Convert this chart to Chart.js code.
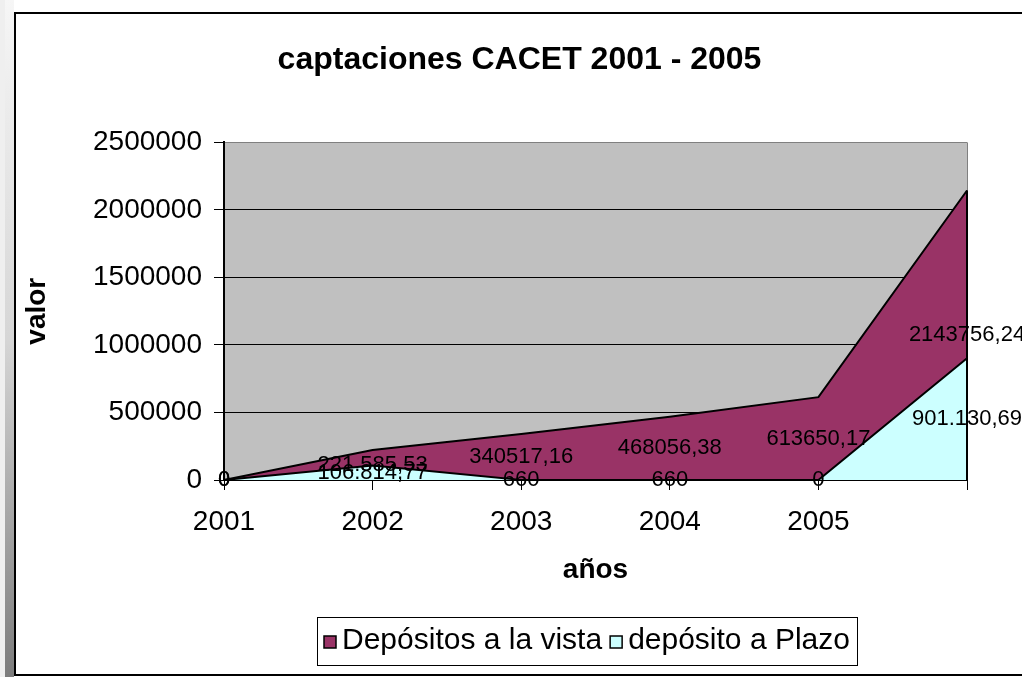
<!DOCTYPE html>
<html>
<head>
<meta charset="utf-8">
<script src="https://cdn.jsdelivr.net/npm/chart.js"></script>
<style>
  html, body { margin: 0; padding: 0; background: #fff; }
  #wrap { width: 1022px; height: 677px; }
</style>
</head>
<body>
<div id="wrap"><canvas id="chart" width="1022" height="677"></canvas></div>
<script>
// data
const years = ['2001', '2002', '2003', '2004', '2005', ''];
const vista = [0, 221585.53, 340517.16, 468056.38, 613650.17, 2143756.24];
const plazo = [0, 106814.77, 660, 660, 0, 901130.69];
const vistaLabels = ['0', '221.585,53', '340517,16', '468056,38', '613650,17', '2143756,24'];
const plazoLabels = ['0', '106.814,77', '660', '660', '0', '901.130,69'];
const yTicks = [0, 500000, 1000000, 1500000, 2000000, 2500000];

const FONT = '"Liberation Sans", Arial, sans-serif';
Chart.defaults.font.family = FONT;
Chart.defaults.color = '#000';

// frame, shadow strip, grey plot background, value labels and boxed legend
const framePlugin = {
  id: 'frame',
  afterLayout(chart) {
    // the title sits a little right of the canvas centre in the original
    chart.titleBlock.left += 28;
    chart.titleBlock.right += 28;
  },
  beforeDraw(chart) {
    const ctx = chart.ctx, a = chart.chartArea;
    ctx.save();
    ctx.fillStyle = '#fff';
    ctx.fillRect(0, 0, chart.width, chart.height);
    ctx.fillStyle = '#efefef';
    ctx.fillRect(0, 0, 5, chart.height);
    const g = ctx.createLinearGradient(0, 0, 0, chart.height);
    g.addColorStop(0, '#f6f6f6');
    g.addColorStop(0.5, '#d6d6d6');
    g.addColorStop(1, '#7c7c7c');
    ctx.fillStyle = g;
    ctx.fillRect(5, 0, 9, chart.height);
    ctx.strokeStyle = '#000';
    ctx.lineWidth = 2;
    ctx.strokeRect(15, 13, 1040, 662);
    ctx.fillStyle = '#c0c0c0';
    ctx.fillRect(a.left, a.top, a.right - a.left, a.bottom - a.top);
    ctx.restore();
  },
  beforeDatasetsDraw(chart) {
    const ctx = chart.ctx, a = chart.chartArea;
    ctx.save();
    ctx.strokeStyle = '#808080';
    ctx.lineWidth = 1;
    ctx.beginPath();
    ctx.moveTo(a.right + 0.5, a.top);
    ctx.lineTo(a.right + 0.5, a.bottom);
    ctx.stroke();
    ctx.restore();
  },
  afterDatasetsDraw(chart) {
    const ctx = chart.ctx;
    const base = chart.scales.y.getPixelForValue(0);
    ctx.save();
    // closing edge of the areas at the last point
    ctx.strokeStyle = '#000';
    ctx.lineWidth = 2;
    chart.data.datasets.forEach((ds, i) => {
      const pts = chart.getDatasetMeta(i).data;
      const p = pts[pts.length - 1];
      ctx.beginPath();
      ctx.moveTo(p.x, p.y);
      ctx.lineTo(p.x, base);
      ctx.stroke();
    });
    // value labels, centred between the point and the base
    ctx.fillStyle = '#000';
    ctx.font = '22px ' + FONT;
    ctx.textAlign = 'center';
    ctx.textBaseline = 'middle';
    chart.data.datasets.forEach((ds, i) => {
      chart.getDatasetMeta(i).data.forEach((p, j) => {
        ctx.fillText(ds.valueLabels[j], p.x, (p.y + base) / 2);
      });
    });
    ctx.restore();
  },
  afterDraw(chart) {
    const ctx = chart.ctx;
    const box = { left: 317, right: 857, top: 617, bottom: 665 };
    const sq = 12, gapBox = 6, gapItem = 8;
    ctx.save();
    ctx.font = '30px ' + FONT;
    const items = chart.data.datasets.map(ds => ({
      text: ds.label, fill: ds.backgroundColor, w: ctx.measureText(ds.label).width
    }));
    const total = items.reduce((s, it) => s + sq + gapBox + it.w, 0) + gapItem * (items.length - 1);
    let x = Math.round((box.left + box.right) / 2 - total / 2);
    const cy = (box.top + box.bottom) / 2;
    ctx.strokeStyle = '#000';
    ctx.lineWidth = 1;
    ctx.strokeRect(box.left + 0.5, box.top + 0.5, box.right - box.left, box.bottom - box.top);
    ctx.textAlign = 'left';
    ctx.textBaseline = 'middle';
    items.forEach(it => {
      ctx.fillStyle = it.fill;
      ctx.fillRect(x, cy - sq / 2 + 1, sq, sq);
      ctx.lineWidth = 1.5;
      ctx.strokeRect(x, cy - sq / 2 + 1, sq, sq);
      ctx.fillStyle = '#000';
      ctx.fillText(it.text, x + sq + gapBox, cy);
      x += sq + gapBox + it.w + gapItem;
    });
    ctx.restore();
  }
};

new Chart(document.getElementById('chart'), {
  type: 'line',
  data: {
    labels: years,
    datasets: [
      {
        label: 'Depósitos a la vista',
        data: vista,
        valueLabels: vistaLabels,
        backgroundColor: '#993366',
        borderColor: '#000',
        borderWidth: 2,
        fill: 'origin',
        pointRadius: 0,
        tension: 0,
        order: 2
      },
      {
        label: 'depósito a Plazo',
        data: plazo,
        valueLabels: plazoLabels,
        backgroundColor: '#ccffff',
        borderColor: '#000',
        borderWidth: 2,
        fill: 'origin',
        pointRadius: 0,
        tension: 0,
        order: 1
      }
    ]
  },
  options: {
    responsive: false,
    animation: false,
    layout: { padding: { left: 16, right: 55, top: 0, bottom: 59 } },
    plugins: {
      tooltip: { enabled: false },
      legend: { display: false },
      title: {
        display: true,
        text: 'captaciones CACET 2001 - 2005',
        color: '#000',
        font: { size: 32, weight: 'bold' },
        padding: { top: 41, bottom: 63 }
      }
    },
    scales: {
      x: {
        type: 'category',
        offset: false,
        grid: { drawOnChartArea: false, drawTicks: true, tickLength: 10, color: '#000', tickColor: '#000' },
        border: { color: '#000', width: 2 },
        ticks: { color: '#000', font: { size: 28 }, padding: 15, maxRotation: 0, autoSkip: false },
        title: {
          display: true,
          text: 'años',
          color: '#000',
          font: { size: 28, weight: 'bold' },
          padding: { top: 4, bottom: 31 }
        },
        afterFit: s => { s.height = 138; }
      },
      y: {
        min: 0,
        max: 2500000,
        afterBuildTicks: s => { s.ticks = yTicks.map(v => ({ value: v })); },
        ticks: { color: '#000', font: { size: 28 }, padding: 12, callback: v => String(v) },
        grid: {
          color: c => (c.tick && c.tick.value === 2500000 ? '#808080' : '#000'),
          tickColor: '#000',
          tickLength: 10,
          lineWidth: 1
        },
        border: { color: '#000', width: 2 },
        title: {
          display: true,
          text: 'valor',
          color: '#000',
          font: { size: 28, weight: 'bold' },
          padding: { top: 4, bottom: 4 }
        },
        afterFit: s => { s.width = 208; }
      }
    }
  },
  plugins: [framePlugin]
});
</script>
</body>
</html>
